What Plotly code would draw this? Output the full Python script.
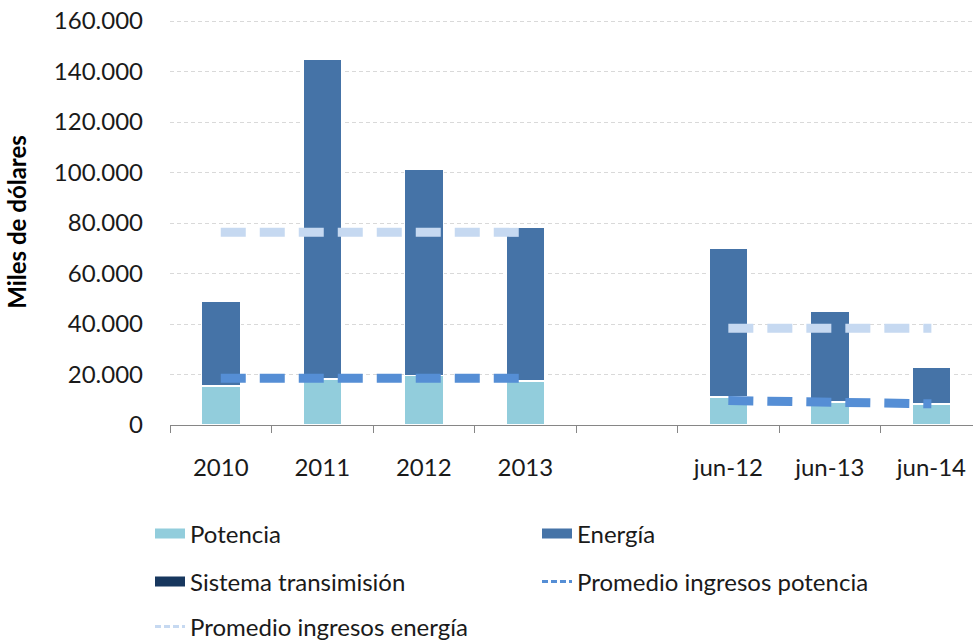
import plotly.graph_objects as go

categories = ["2010", "2011", "2012", "2013", " ", "jun-12", "jun-13", "jun-14"]
potencia = [15400, 18200, 19700, 17400, None, 11100, 9100, 8300]
energia = [33600, 126600, 81600, 60900, None, 59000, 36000, 14600]
sistema = [0, 0, 0, 0, None, 0, 0, 0]
prom_potencia = [18500, 18500, 18500, 18500, None, 9700, 9000, 8400]
prom_energia = [76300, 76300, 76300, 76300, None, 38300, 38300, 38300]
y_ticks = [0, 20000, 40000, 60000, 80000, 100000, 120000, 140000, 160000]
y_tick_labels = ["0", "20.000", "40.000", "60.000", "80.000", "100.000", "120.000", "140.000", "160.000"]

C_POT = "#92CDDC"
C_ENE = "#4573A7"
C_SIS = "#17375E"
C_PPOT = "#558ED5"
C_PENE = "#C6D9F1"
FONT = "Lato"
TXT = "#1a1a1a"

fig = go.Figure()

fig.add_trace(go.Bar(x=categories, y=potencia, name="Potencia", marker=dict(color=C_POT, line=dict(color="white", width=1.5)), showlegend=False))
fig.add_trace(go.Bar(x=categories, y=energia, name="Energía", marker=dict(color=C_ENE, line=dict(color="white", width=1.5)), showlegend=False))
fig.add_trace(go.Bar(x=categories, y=sistema, name="Sistema transimisión", marker=dict(color=C_SIS, line=dict(width=0)), showlegend=False))

fig.add_trace(go.Scatter(x=categories, y=prom_energia, mode="lines", name="Promedio ingresos energía",
                         line=dict(color=C_PENE, width=9, dash="25px,14px"), connectgaps=False, showlegend=False))
fig.add_trace(go.Scatter(x=categories, y=prom_potencia, mode="lines", name="Promedio ingresos potencia",
                         line=dict(color=C_PPOT, width=9, dash="25px,14px"), connectgaps=False, showlegend=False))

# legend entries
def proxy(name, color, width, dash, legend):
    fig.add_trace(go.Scatter(x=[None], y=[None], mode="lines", name=name,
                             line=dict(color=color, width=width, dash=dash), legend=legend))

proxy("Potencia", C_POT, 12, "solid", "legend")
proxy("Energía", C_ENE, 12, "solid", "legend")
proxy("Sistema transimisión", C_SIS, 12, "solid", "legend2")
proxy("Promedio ingresos potencia", C_PPOT, 3, "6px,3px", "legend2")
proxy("Promedio ingresos energía", C_PENE, 3, "6px,3px", "legend3")

W, H = 973, 642
L, R, T, B = 170, 0, 19, 217
pw, ph = W - L - R, H - T - B

def px_x(x):
    return (x - L) / pw

def px_y(y):
    return (H - B - y) / ph

leg_common = dict(orientation="h", xanchor="left", yanchor="middle", entrywidth=342,
                  font=dict(family=FONT, size=24, color=TXT), bgcolor="rgba(0,0,0,0)",
                  itemwidth=30, traceorder="normal")

fig.update_layout(
    width=W, height=H,
    margin=dict(l=L, r=R, t=T, b=B, autoexpand=False),
    paper_bgcolor="white", plot_bgcolor="white",
    barmode="stack", bargap=0.616,
    font=dict(family=FONT, size=24, color=TXT),
    legend=dict(x=px_x(150), y=px_y(534), **leg_common),
    legend2=dict(x=px_x(150), y=px_y(582), **leg_common),
    legend3=dict(x=px_x(150), y=px_y(627), **leg_common),
    xaxis=dict(
        type="category", categoryorder="array", categoryarray=categories, automargin=False,
        range=[-0.5, 7.41], tickson="boundaries", ticks="outside", ticklen=7,
        tickcolor="#868686", tickwidth=1, showline=True, linecolor="#868686", linewidth=1,
        showgrid=False, tickfont=dict(family=FONT, size=24, color=TXT), ticklabelstandoff=21,
    ),
    yaxis=dict(
        range=[0, 160800], tickvals=y_ticks, ticktext=y_tick_labels, automargin=False,
        showgrid=True, gridcolor="#D9D9D9", gridwidth=1, griddash="4px,3px",
        zeroline=False, showline=False, ticks="", ticklabeloverflow="allow",
        tickfont=dict(family=FONT, size=24, color=TXT), ticklabelstandoff=26,
        title=dict(text="<b>Miles de dólares</b>", font=dict(family=FONT, size=24, color="#000000"), standoff=20),
    ),
)

fig.write_html("out.html", config={"displayModeBar": False},
               post_script="document.body.style.margin='0';document.body.style.overflow='hidden';")
